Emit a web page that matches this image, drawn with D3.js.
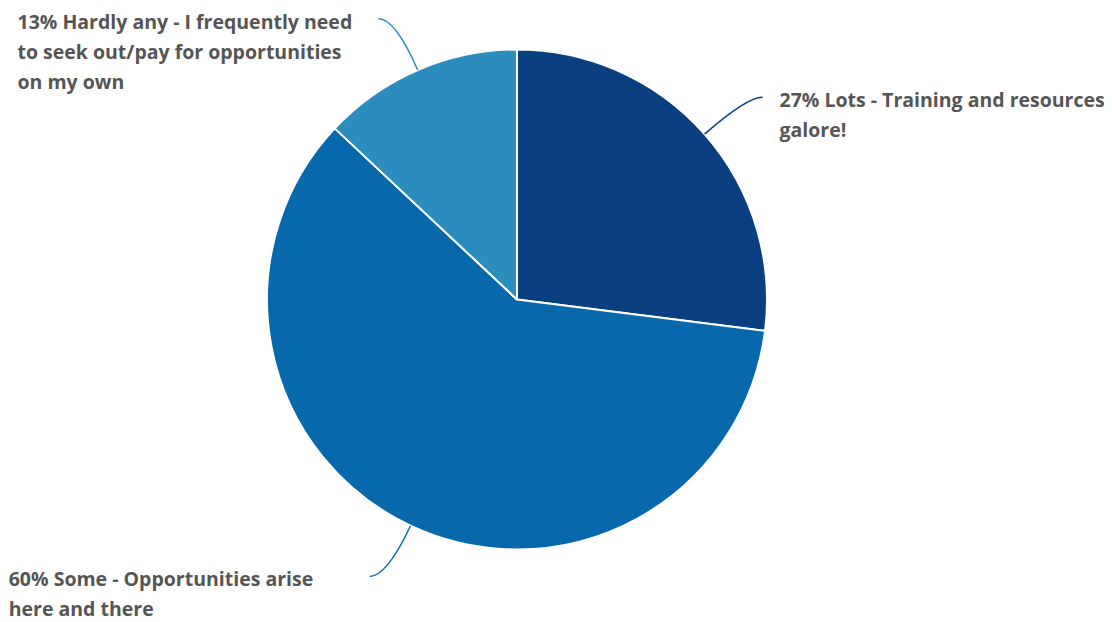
<!DOCTYPE html>
<html>
<head>
<meta charset="utf-8">
<script src="https://cdn.jsdelivr.net/npm/d3@7"></script>
<style>
  html, body { margin: 0; padding: 0; background: #ffffff; }
  svg { display: block; }
  .label { font-family: "Open Sans", "Noto Sans", sans-serif; font-weight: 700; font-size: 19.5px; fill: #555555; }
</style>
</head>
<body>
<svg id="chart" width="1112" height="622"></svg>
<script>
// Survey answers: how many professional development opportunities are offered
const categories = ["Lots", "Some", "Hardly any"];
const values = [27, 60, 13];
const colors = ["#0a3f80", "#0868ac", "#2b8cbe"];
const labelLines = [
  ["27% Lots - Training and resources", "galore!"],
  ["60% Some - Opportunities arise", "here and there"],
  ["13% Hardly any - I frequently need", "to seek out/pay for opportunities", "on my own"]
];

const width = 1112, height = 622;
const cx = 517, cy = 299.5, radius = 250;
const connectorRadius = 306;   // where the connector bends to horizontal
const lineHeight = 30;

const svg = d3.select("#chart");
const g = svg.append("g").attr("transform", `translate(${cx},${cy})`);

const pie = d3.pie().sort(null).value(d => d.value);
const arc = d3.arc().innerRadius(0).outerRadius(radius);

const data = categories.map((c, i) => ({ name: c, value: values[i], color: colors[i], lines: labelLines[i] }));
const arcs = pie(data);

g.selectAll("path.slice")
  .data(arcs)
  .join("path")
  .attr("class", "slice")
  .attr("d", arc)
  .attr("fill", d => d.data.color)
  .attr("stroke", "#ffffff")
  .attr("stroke-width", 2)
  .attr("stroke-linejoin", "round");

// Curved connectors: leave the rim radially, bend to a short horizontal stub
arcs.forEach(d => {
  const mid = (d.startAngle + d.endAngle) / 2;
  const sx = Math.sin(mid), sy = -Math.cos(mid);
  const right = sx >= 0;
  const p0 = [radius * sx, radius * sy];
  const ctrl = [connectorRadius * sx, connectorRadius * sy];
  const stub = right ? 16 : -17;
  const end = [ctrl[0] + stub, ctrl[1]];

  g.append("path")
    .attr("d", `M${p0[0]},${p0[1]} Q${ctrl[0]},${ctrl[1]} ${end[0]},${end[1]}`)
    .attr("fill", "none")
    .attr("stroke", d.data.color)
    .attr("stroke-width", 1.5);

  const tx = right ? end[0] + 17 : end[0] - 361;
  const text = g.append("text")
    .attr("class", "label")
    .attr("x", tx)
    .attr("y", end[1] + 10);
  d.data.lines.forEach((ln, i) => {
    text.append("tspan")
      .attr("x", tx)
      .attr("dy", i === 0 ? 0 : lineHeight)
      .text(ln);
  });
});
</script>
</body>
</html>
